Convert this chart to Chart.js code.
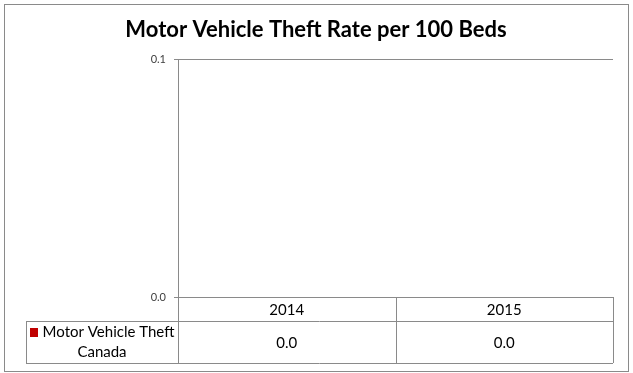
<!DOCTYPE html>
<html>
<head>
<meta charset="utf-8">
<script src="https://cdn.jsdelivr.net/npm/chart.js@4"></script>
<style>
html,body{margin:0;padding:0;background:#fff;}
#wrap{width:633px;height:373px;}
</style>
</head>
<body>
<div id="wrap"><canvas id="c" width="633" height="373"></canvas></div>
<script>
const chartTitle = "Motor Vehicle Theft Rate per 100 Beds";
const categories = ["2014", "2015"];
const seriesName = ["Motor Vehicle Theft", "Canada"];
const seriesValues = [0.0, 0.0];
const yTicks = [0.0, 0.1];

const LINE = '#8a8a8a';
const FONT = 'Lato, "Open Sans", sans-serif';

const tablePlugin = {
  id: 'tablePlugin',
  afterDraw(chart) {
    const ctx = chart.ctx;
    const area = chart.chartArea;
    const xs = chart.scales.x;
    ctx.save();
    // outer border
    ctx.strokeStyle = LINE;
    ctx.lineWidth = 1;
    ctx.strokeRect(4.5, 4.5, 624, 367);

    // title
    ctx.fillStyle = '#000';
    ctx.font = 'bold 22px ' + FONT;
    ctx.textAlign = 'center';
    ctx.textBaseline = 'alphabetic';
    ctx.fillText(chartTitle, 316, 37);

    // table geometry
    const left = area.left, right = area.right;
    const top = area.bottom;
    const rowH1 = 24, rowH2 = 42;
    const legendLeft = 26;
    const bounds = [left];
    for (let i = 0; i < categories.length; i++) {
      const c = xs.getPixelForTick(i);
      const next = i < categories.length - 1 ? (c + xs.getPixelForTick(i + 1)) / 2 : right;
      bounds.push(Math.round(next));
    }
    const px = v => Math.round(v) + 0.5;
    ctx.strokeStyle = LINE;
    ctx.beginPath();
    ctx.moveTo(legendLeft, px(top + rowH1)); ctx.lineTo(right, px(top + rowH1));
    ctx.moveTo(legendLeft, px(top + rowH1 + rowH2)); ctx.lineTo(right, px(top + rowH1 + rowH2));
    ctx.moveTo(left, px(top)); ctx.lineTo(right, px(top));
    ctx.moveTo(px(legendLeft), top + rowH1); ctx.lineTo(px(legendLeft), top + rowH1 + rowH2);
    bounds.forEach((b) => {
      ctx.moveTo(px(b), top); ctx.lineTo(px(b), top + rowH1 + rowH2);
    });
    ctx.stroke();

    // header labels
    ctx.fillStyle = '#000';
    ctx.font = '15px ' + FONT;
    ctx.textAlign = 'center';
    ctx.textBaseline = 'middle';
    categories.forEach((c, i) => {
      ctx.fillText(c, xs.getPixelForTick(i), top + rowH1 / 2 + 1);
    });
    seriesValues.forEach((v, i) => {
      ctx.fillText(v.toFixed(1), xs.getPixelForTick(i), top + rowH1 + rowH2 / 2 + 1);
    });
    // legend cell
    const cx = (legendLeft + left) / 2;
    const w1 = ctx.measureText(seriesName[0]).width;
    const sq = 9;
    const totalW = sq + 4 + w1;
    const sx = cx - totalW / 2;
    const y1 = top + rowH1 + 11;
    ctx.fillStyle = '#C00000';
    ctx.fillRect(Math.round(sx), Math.round(y1 - 4), 8, 9);
    ctx.fillStyle = '#000';
    ctx.textAlign = 'left';
    ctx.fillText(seriesName[0], sx + sq + 4, y1);
    ctx.textAlign = 'center';
    ctx.fillText(seriesName[1], cx, y1 + 20);
    ctx.restore();
  }
};

new Chart(document.getElementById('c'), {
  type: 'bar',
  data: {
    labels: categories,
    datasets: [{
      label: seriesName.join(' '),
      data: seriesValues,
      backgroundColor: '#C00000',
      borderWidth: 0
    }]
  },
  options: {
    responsive: false,
    animation: false,
    devicePixelRatio: 1,
    layout: { padding: { top: 59, bottom: 76, right: 20, left: 0 } },
    plugins: { legend: { display: false }, title: { display: false }, tooltip: { enabled: false } },
    scales: {
      x: { display: false, offset: true },
      y: {
        min: yTicks[0],
        max: yTicks[yTicks.length - 1],
        afterBuildTicks(s) { s.ticks = yTicks.map(v => ({ value: v })); },
        afterFit(s) { s.width = 178; },
        ticks: {
          padding: 8,
          color: '#404040',
          font: { family: FONT, size: 11 },
          callback: v => Number(v).toFixed(1)
        },
        grid: { color: LINE, tickLength: 4, drawOnChartArea: true },
        border: { display: true, color: LINE }
      }
    }
  },
  plugins: [tablePlugin]
});
</script>
</body>
</html>
